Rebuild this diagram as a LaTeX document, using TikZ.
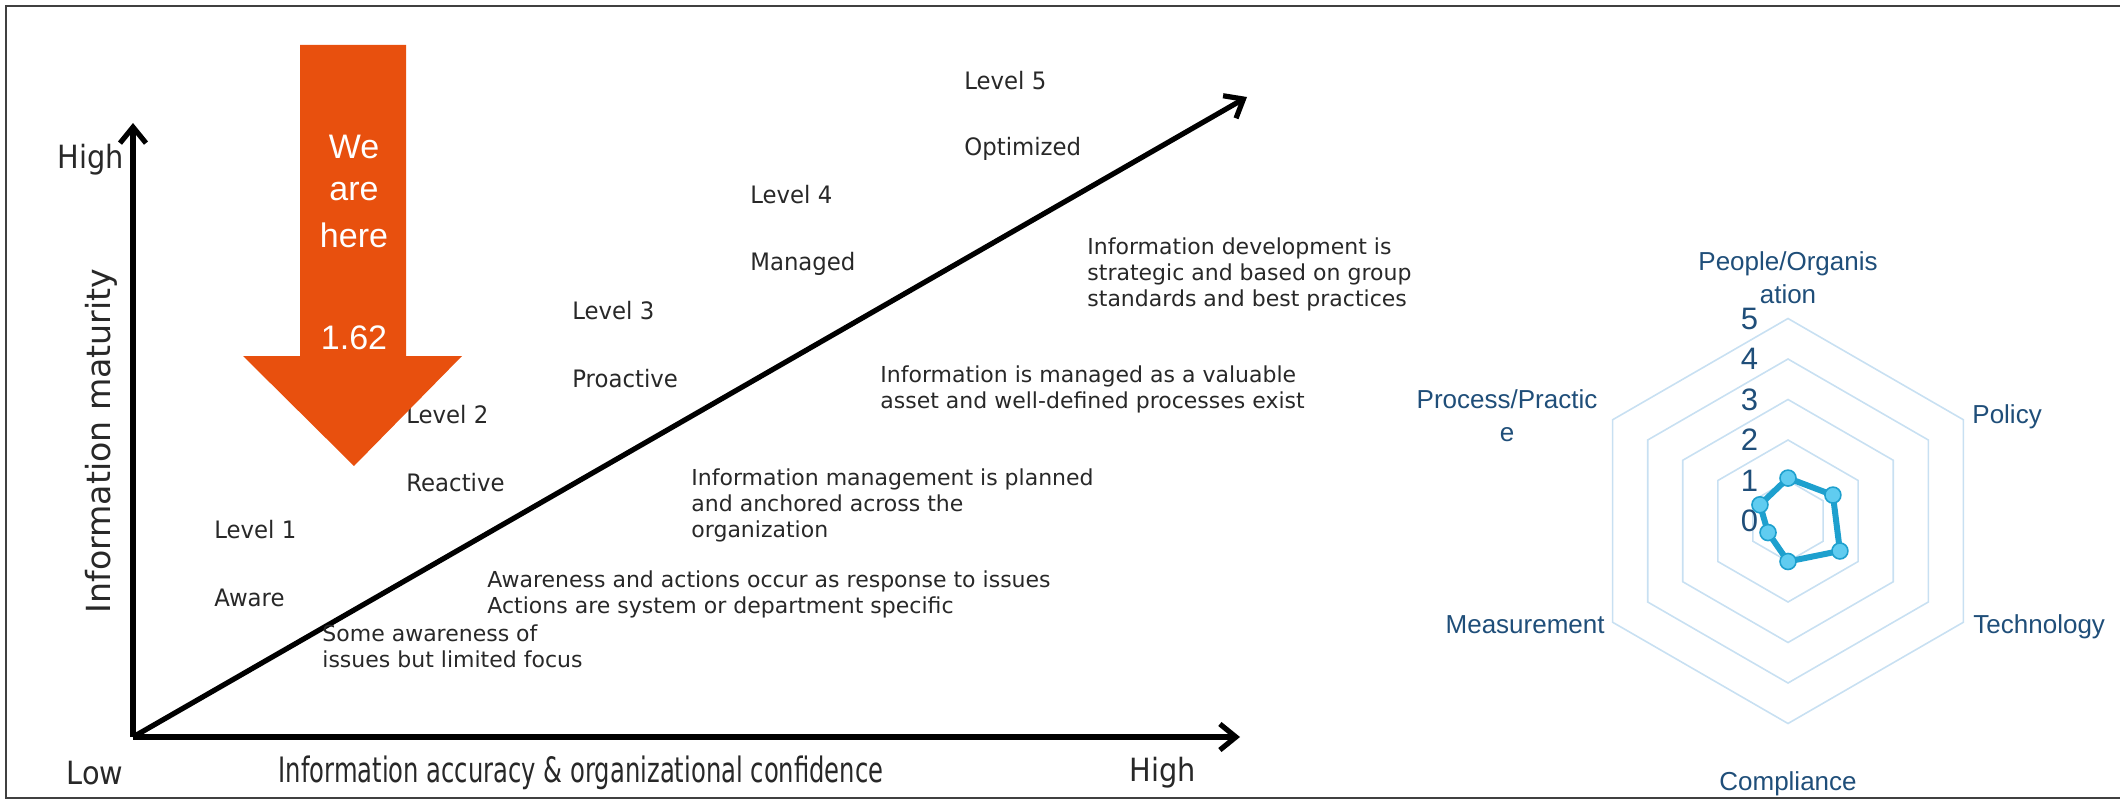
\documentclass[tikz,border=0pt]{standalone}
\usepackage{fontspec}
\setmainfont{DejaVu Sans}
\newfontfamily\arialfont{Liberation Sans}
\usetikzlibrary{arrows.meta}
\definecolor{txtgray}{RGB}{40,40,40}
\definecolor{hereorange}{RGB}{232,80,14}
\definecolor{radartext}{RGB}{31,78,121}
\definecolor{gridblue}{RGB}{200,224,242}
\definecolor{lineblue}{RGB}{30,160,206}
\definecolor{dotblue}{RGB}{96,204,240}
\begin{document}
\begin{tikzpicture}[x=0.5pt,y=-0.5pt,
    axis/.style={line width=2.6pt,-{Straight Barb[length=8pt,width=13pt]}},
    bigtxt/.style={font=\fontsize{16}{19}\selectfont,text=txtgray,inner sep=0pt,xscale=0.9},
    lvltxt/.style={font=\fontsize{12}{14}\selectfont,text=txtgray,inner sep=0pt,anchor=west,xscale=0.95},
    desctxt/.style={font=\fontsize{11}{13}\selectfont,text=txtgray,inner sep=0pt,anchor=west,align=left},
    heretxt/.style={font=\arialfont\fontsize{17}{20}\selectfont,text=white,inner sep=0pt},
    radartxt/.style={font=\arialfont\fontsize{13}{16.5}\selectfont,text=radartext,inner sep=0pt,align=center},
    gridline/.style={gridblue,line width=0.8pt},
    dataline/.style={lineblue,line width=3pt,line join=round},
    datadot/.style={fill=dotblue,draw=lineblue,line width=0.8pt}]
\useasboundingbox (0,0) rectangle (2120,808);
% frame
\draw[black!75,line width=1pt] (2120,6) -- (6,6) -- (6,798) -- (2120,798);

% maturity axes
\coordinate (O) at (133,737);
\coordinate (ytip) at (133,123);
\coordinate (xtip) at (1240,737);
\coordinate (dtip) at (1247,97);
\draw[axis] (O) -- (ytip);
\draw[axis] (O) -- (xtip);
\draw[axis] (O) -- (dtip);

\node[bigtxt,anchor=east] (yhigh) at (124,160) {High};
\node[bigtxt,xscale=1/0.9,font=\fontsize{16.6}{19}\selectfont,rotate=90] (ylabel) at (101,441) {Information maturity};
\node[bigtxt] (xlow) at (95,773) {Low};
\node[bigtxt,xscale=0.77,font=\fontsize{17.5}{20}\selectfont] (xlabel) at (581,773) {Information accuracy \& organizational confidence};
\node[bigtxt] (xhigh) at (1163,773) {High};

% levels
\node[lvltxt] (lv1) at (214,530) {Level 1};
\node[lvltxt] (aware) at (214,598) {Aware};
\node[lvltxt] (lv2) at (406,415) {Level 2};
\node[lvltxt] (reactive) at (406,483) {Reactive};
\node[lvltxt] (lv3) at (572,311) {Level 3};
\node[lvltxt] (proactive) at (572,379) {Proactive};
\node[lvltxt] (lv4) at (750,195) {Level 4};
\node[lvltxt] (managed) at (750,264) {Managed};
\node[lvltxt] (lv5) at (964,81) {Level 5};
\node[lvltxt] (optimized) at (964,149) {Optimized};

\node[desctxt] (d1) at (322,646) {Some awareness of\\issues but limited focus};
\node[desctxt] (d2) at (487,594) {Awareness and actions occur as response to issues\\Actions are system or department specific};
\node[desctxt] (d3) at (691,505) {Information management is planned\\and anchored across the\\organization};
\node[desctxt] (d4) at (880,389) {Information is managed as a valuable\\asset and well-defined processes exist};
\node[desctxt] (d5) at (1087,274) {Information development is\\strategic and based on group\\standards and best practices};

% we are here
\fill[hereorange] (300,45) -- (406,45) -- (406,356) -- (462,356) -- (354,466) -- (243,356) -- (300,356) -- cycle;
\node[heretxt] (we) at (354,147) {We};
\node[heretxt] (are) at (354,192) {are};
\node[heretxt] (here) at (354,235) {here};
\node[heretxt] (score) at (354,338) {1.62};

% radar
\begin{scope}[shift={(1788,521)},x=20.25pt,y=20.25pt]
  \foreach \r in {1,...,5}
    \draw[gridline] (90:\r) -- (30:\r) -- (-30:\r) -- (-90:\r) -- (-150:\r) -- (150:\r) -- cycle;
  \foreach \r in {0,...,5}
    \node[radartxt,font=\arialfont\fontsize{15.5}{17}\selectfont] (num\r) at (-0.95,\r) {\r};
  \draw[dataline] (90:1.06) coordinate (p1) -- (30:1.28) coordinate (p2)
    -- (-30:1.48) coordinate (p3) -- (-90:1.0) coordinate (p4)
    -- (-150:0.57) coordinate (p5) -- (150:0.8) coordinate (p6) -- cycle;
  \foreach \p in {p1,p2,p3,p4,p5,p6}
    \filldraw[datadot] (\p) circle (4pt);
\end{scope}
\node[radartxt] (people) at (1788,278) {People/Organis\\ation};
\node[radartxt,anchor=west] (policy) at (1972,417) {Policy};
\node[radartxt,anchor=west] (tech) at (1973,627) {Technology};
\node[radartxt] (compl) at (1788,784) {Compliance};
\node[radartxt,anchor=east] (measure) at (1605,625) {Measurement};
\node[radartxt] (process) at (1507,416) {Process/Practic\\e};
\end{tikzpicture}
\end{document}
